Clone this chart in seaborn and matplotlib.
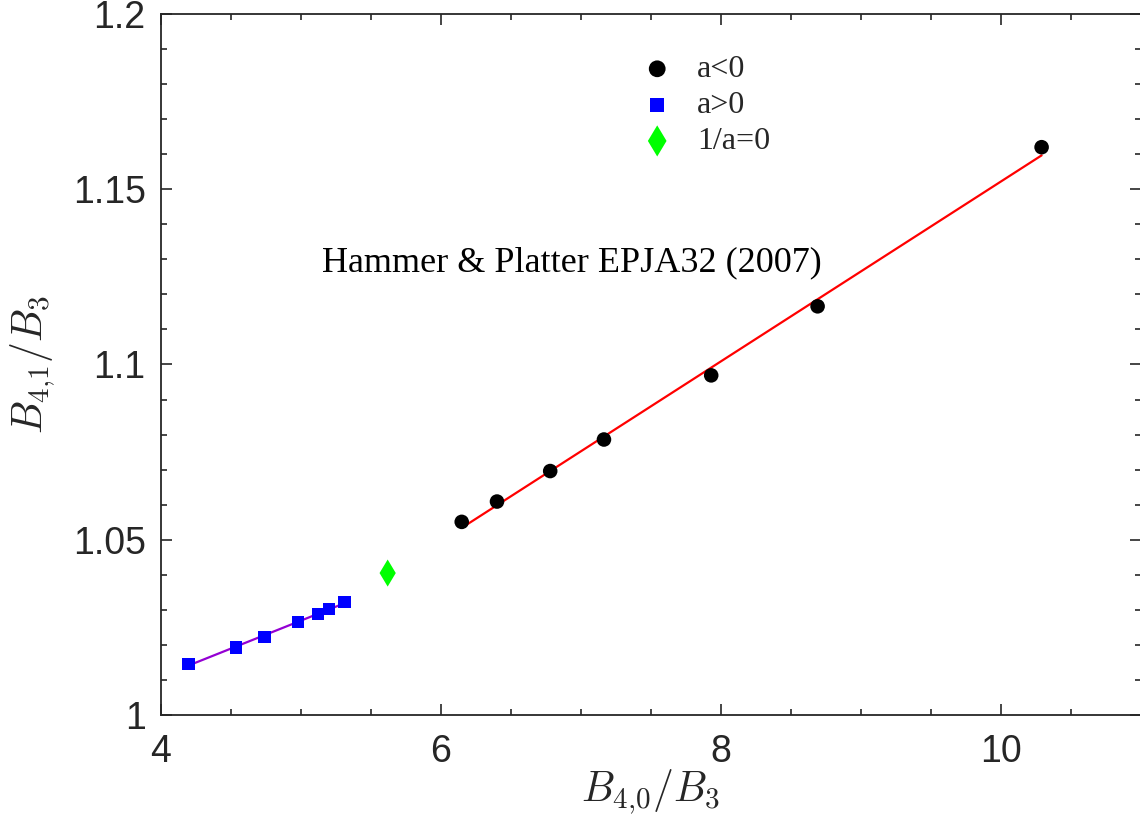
import numpy as np
import pandas as pd
import matplotlib
matplotlib.use("Agg")
import matplotlib.pyplot as plt
import seaborn as sns
from matplotlib.ticker import MultipleLocator

# ---- data ----
neg_x = [6.148, 6.40, 6.78, 7.164, 7.93, 8.69, 10.29]
neg_y = [1.0551, 1.0609, 1.0696, 1.0786, 1.0969, 1.1166, 1.1620]

pos_x = [4.195, 4.536, 4.74, 4.98, 5.12, 5.20, 5.31]
pos_y = [1.0146, 1.0192, 1.0223, 1.0265, 1.0288, 1.0303, 1.0322]

uni_x = [5.619]
uni_y = [1.0405]

labels = ["a<0", "a>0", "1/a=0"]
x_ticks = [4, 6, 8, 10]
y_ticks = [1, 1.05, 1.1, 1.15, 1.2]
y_ticklabels = ["1", "1.05", "1.1", "1.15", "1.2"]
annotation = "Hammer & Platter EPJA32 (2007)"

neg = pd.DataFrame({"x": neg_x, "y": neg_y})
pos = pd.DataFrame({"x": pos_x, "y": pos_y})
uni = pd.DataFrame({"x": uni_x, "y": uni_y})

sns.set_theme(style="ticks")
plt.rcParams["font.family"] = ["Liberation Sans", "DejaVu Sans"]
plt.rcParams["mathtext.fontset"] = "cm"

axc = "#262626"
fig = plt.figure(figsize=(11.4, 8.3), dpi=100)
ax = fig.add_axes([161 / 1140, 1 - 715 / 830, 980 / 1140, 701 / 830])

# fit lines
sns.regplot(data=neg, x="x", y="y", scatter=False, ci=None, ax=ax,
            color="#ff0000", line_kws={"lw": 1.6, "zorder": 2})
sns.regplot(data=pos, x="x", y="y", scatter=False, ci=None, ax=ax,
            color="#9400D3", line_kws={"lw": 1.6, "zorder": 2})

# points
sns.scatterplot(data=neg, x="x", y="y", marker="o", s=110, color="black",
                edgecolor="none", ax=ax, label=labels[0], zorder=3)
sns.scatterplot(data=pos, x="x", y="y", marker="s", s=80, color="#0000ff",
                edgecolor="none", ax=ax, label=labels[1], zorder=3)
sns.scatterplot(data=uni, x="x", y="y", marker="d", s=190, color="#00ff00",
                edgecolor="none", ax=ax, label=labels[2], zorder=3)

ax.set_xlim(4, 11)
ax.set_ylim(1, 1.2)
ax.set_xticks(x_ticks)
ax.set_xticklabels([str(t) for t in x_ticks])
ax.set_yticks(y_ticks)
ax.set_yticklabels(y_ticklabels)
ax.xaxis.set_minor_locator(MultipleLocator(0.5))
ax.yaxis.set_minor_locator(MultipleLocator(0.01))

for s in ax.spines.values():
    s.set_visible(True)
    s.set_color(axc)
    s.set_linewidth(1.3)

ax.tick_params(which="both", direction="in", top=True, right=True,
               colors=axc, width=1.2, labelsize=27, labelcolor=axc)
ax.tick_params(which="major", length=8)
ax.tick_params(which="minor", length=4)
ax.tick_params(axis="x", which="major", pad=14)
ax.tick_params(axis="y", which="major", pad=11)

ax.set_xlabel(r"$B_{4{,}0}/B_3$", fontsize=30, color=axc)
ax.set_ylabel(r"$B_{4{,}1}/B_3$", fontsize=30, color=axc)
ax.xaxis.set_label_coords(0.5, -0.075)
ax.yaxis.set_label_coords(-0.106, 0.5)

ax.text(6.936, 1.1291, annotation, ha="center", va="center",
        fontsize=26, family=["Liberation Serif", "DejaVu Serif"], color="black")

leg = ax.legend(loc="upper left", bbox_to_anchor=(0.477, 0.960), frameon=False,
                prop={"family": ["Liberation Serif", "DejaVu Serif"], "size": 23},
                handlelength=1.0, handletextpad=0.75, labelspacing=0.21,
                scatterpoints=1, borderaxespad=0, markerscale=1.15)
ax.grid(False)

fig.savefig("out.png", dpi=100)
